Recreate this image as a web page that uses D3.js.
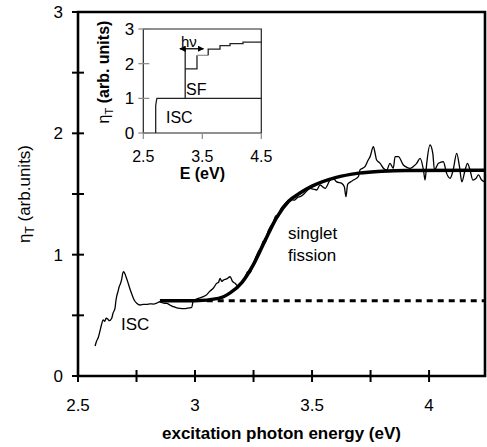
<!DOCTYPE html>
<html><head><meta charset="utf-8">
<script src="https://cdn.jsdelivr.net/npm/d3@7"></script>
<style>body{margin:0;background:#fff}svg{display:block}text{font-family:"Liberation Sans",Arial,sans-serif}</style>
</head><body><svg id="c" width="487" height="447"></svg>
<script>
const rawE = [2.573,2.580,2.587,2.595,2.600,2.608,2.614,2.620,2.627,2.634,2.644,2.650,2.658,2.662,2.665,2.670,2.676,2.682,2.687,2.691,2.695,2.700,2.705,2.712,2.719,2.727,2.734,2.742,2.751,2.765,2.780,2.794,2.808,2.822,2.836,2.850,2.865,2.879,2.893,2.907,2.922,2.936,2.950,2.965,2.986,2.993,3.000,3.014,3.035,3.050,3.064,3.078,3.093,3.100,3.107,3.114,3.121,3.135,3.150,3.160,3.171,3.185,3.200,3.215,3.225,3.235,3.245,3.260,3.275,3.285,3.290,3.300,3.310,3.325,3.335,3.345,3.355,3.365,3.380,3.395,3.410,3.425,3.440,3.449,3.465,3.480,3.491,3.505,3.520,3.534,3.556,3.577,3.590,3.605,3.627,3.638,3.645,3.652,3.665,3.677,3.698,3.705,3.726,3.740,3.748,3.762,3.769,3.776,3.791,3.805,3.819,3.833,3.847,3.855,3.869,3.890,3.905,3.919,3.935,3.947,3.962,3.976,3.983,3.990,4.004,4.016,4.023,4.040,4.061,4.075,4.090,4.103,4.118,4.130,4.140,4.154,4.164,4.175,4.187,4.201,4.211,4.225,4.239];
const rawV = [0.247,0.290,0.319,0.380,0.420,0.462,0.450,0.476,0.470,0.456,0.476,0.520,0.558,0.620,0.654,0.690,0.736,0.764,0.800,0.846,0.860,0.845,0.818,0.780,0.736,0.690,0.654,0.620,0.599,0.585,0.590,0.591,0.595,0.593,0.600,0.612,0.600,0.599,0.585,0.571,0.562,0.558,0.556,0.558,0.566,0.626,0.630,0.640,0.654,0.670,0.700,0.723,0.764,0.770,0.805,0.780,0.790,0.800,0.818,0.780,0.764,0.740,0.770,0.820,0.860,0.850,0.900,0.980,1.040,1.060,1.110,1.100,1.180,1.240,1.270,1.320,1.310,1.370,1.410,1.440,1.455,1.450,1.475,1.478,1.500,1.530,1.547,1.540,1.533,1.574,1.547,1.615,1.630,1.600,1.588,1.560,1.478,1.580,1.600,1.615,1.643,1.698,1.725,1.780,1.808,1.890,1.840,1.780,1.753,1.712,1.698,1.753,1.712,1.808,1.808,1.739,1.720,1.712,1.730,1.753,1.794,1.698,1.615,1.753,1.904,1.835,1.698,1.753,1.766,1.670,1.630,1.698,1.835,1.725,1.600,1.698,1.753,1.698,1.615,1.630,1.657,1.615,1.600];
const fitE = [2.85,3.00,3.10,3.15,3.20,3.25,3.30,3.35,3.40,3.45,3.50,3.60,3.70,3.80,3.90,4.24];
const fitV = [0.62,0.62,0.64,0.685,0.77,0.92,1.12,1.31,1.44,1.51,1.565,1.635,1.672,1.688,1.694,1.695];
const iscLevel = 0.62, iscLineStart = 3.05;
const xTicks = [2.5,3,3.5,4];
const xMinor = [2.75,3.25,3.75];
const yTicks = [0,1,2,3];
const yMinor = [0.5,1.5,2.5];
const inIscE = [2.71,2.71,2.73,4.5];
const inIscV = [0,0.8,1,1];
const inSfE = [3.21,3.21];
const inSfV = [1,2.43];
const inBoxE = [3.21,3.41,3.41];
const inBoxV = [1.85,1.85,2.24];
const inGrayE = [3.41,3.60];
const inGrayV = [2.24,2.24];
const inStepE = [3.60,3.60,3.80,3.80,3.97,3.97,4.19,4.19,4.5];
const inStepV = [2.24,2.42,2.42,2.52,2.52,2.58,2.58,2.62,2.62];
const inHvE = [3.12,3.52];
const inXTicks = [2.5,3.5,4.5];
const inYTicks = [0,1,2,3];

const svg = d3.select("#c");
const mL=78,mR=485,mT=12,mB=376;
const x = d3.scaleLinear().domain([2.5,4.239]).range([mL,mR]);
const y = d3.scaleLinear().domain([0,3]).range([mB,mT]);

// plot frame
svg.append("path")
  .attr("d",`M${x.range()[0]},${y.range()[1]}H${x.range()[1]}V${y.range()[0]}H${x.range()[0]}Z`)
  .attr("fill","none").attr("stroke","#000").attr("stroke-width",2.6);

// ticks
svg.append("g").selectAll("line").data(xTicks.concat(xMinor)).join("line")
  .attr("x1",d=>x(d)).attr("x2",d=>x(d)).attr("y1",mB-6).attr("y2",mB+6)
  .attr("stroke","#000").attr("stroke-width",2);
svg.append("g").selectAll("text").data(xTicks).join("text")
  .attr("x",d=>x(d)).attr("y",mB+35).attr("text-anchor","middle")
  .attr("font-size",17).text(d=>d3.format("")(d));
svg.append("g").selectAll("line").data(yTicks.concat(yMinor)).join("line")
  .attr("y1",d=>y(d)).attr("y2",d=>y(d)).attr("x1",mL-6).attr("x2",mL+6)
  .attr("stroke","#000").attr("stroke-width",2);
svg.append("g").selectAll("text").data(yTicks).join("text")
  .attr("x",mL-15).attr("y",d=>y(d)+6).attr("text-anchor","end")
  .attr("font-size",17).text(d=>d);

svg.append("text").attr("x",(mL+mR)/2).attr("y",439).attr("text-anchor","middle")
  .attr("font-size",17).attr("font-weight","bold").text("excitation photon energy (eV)");
const yt = svg.append("text").attr("transform","translate(30,194) rotate(-90)")
  .attr("text-anchor","middle").attr("font-size",17);
yt.append("tspan").text("η");
yt.append("tspan").attr("font-size",12).attr("dy",4).text("T");
yt.append("tspan").attr("dy",-4).text(" (arb.units)");

svg.append("line").attr("x1",x(iscLineStart)).attr("x2",x(4.239))
  .attr("y1",y(iscLevel)).attr("y2",y(iscLevel))
  .attr("stroke","#000").attr("stroke-width",3.2).attr("stroke-dasharray","6,5");

const rawData = rawE.map((e,i)=>[e,rawV[i]]);
svg.append("path").datum(rawData)
  .attr("d",d3.line().x(d=>x(d[0])).y(d=>y(d[1])).curve(d3.curveMonotoneX))
  .attr("fill","none").attr("stroke","#000").attr("stroke-width",1.3);
const fitData = fitE.map((e,i)=>[e,fitV[i]]);
svg.append("path").datum(fitData)
  .attr("d",d3.line().x(d=>x(d[0])).y(d=>y(d[1])).curve(d3.curveMonotoneX))
  .attr("fill","none").attr("stroke","#000").attr("stroke-width",3.5);

svg.append("text").attr("x",121).attr("y",330).attr("font-size",17).text("ISC");
svg.append("text").attr("x",288).attr("y",239).attr("font-size",17).text("singlet");
svg.append("text").attr("x",288).attr("y",261).attr("font-size",17).text("fission");

// ---- inset ----
const iL=143.3,iR=261.3,iT=29,iB=133;
const ix = d3.scaleLinear().domain([2.5,4.5]).range([iL,iR]);
const iy = d3.scaleLinear().domain([0,3]).range([iB,iT]);
svg.append("path")
  .attr("d",`M${ix.range()[0]},${iy.range()[1]}H${ix.range()[1]}V${iy.range()[0]}H${ix.range()[0]}Z`)
  .attr("fill","none").attr("stroke","#222").attr("stroke-width",1.2);
svg.append("g").selectAll("line").data(inXTicks).join("line")
  .attr("x1",d=>ix(d)).attr("x2",d=>ix(d)).attr("y1",iB).attr("y2",iB+6)
  .attr("stroke","#888").attr("stroke-width",1.2);
svg.append("g").selectAll("text").data(inXTicks).join("text")
  .attr("x",d=>ix(d)).attr("y",iB+29).attr("text-anchor","middle").attr("font-size",16)
  .text(d=>d3.format(".1f")(d));
svg.append("g").selectAll("line").data(inYTicks).join("line")
  .attr("y1",d=>iy(d)).attr("y2",d=>iy(d)).attr("x1",iL-5).attr("x2",iL+6)
  .attr("stroke","#888").attr("stroke-width",1.2);
svg.append("g").selectAll("text").data(inYTicks).join("text")
  .attr("x",iL-9).attr("y",d=>iy(d)+6).attr("text-anchor","end").attr("font-size",17)
  .text(d=>d);
svg.append("text").attr("x",ix(3.5)).attr("y",178.5).attr("text-anchor","middle")
  .attr("font-size",16).attr("font-weight","bold").text("E (eV)");
const iyt = svg.append("text").attr("transform","translate(109,72) rotate(-90)")
  .attr("text-anchor","middle").attr("font-size",16).attr("font-weight","bold");
iyt.append("tspan").attr("font-weight","normal").text("η");
iyt.append("tspan").attr("font-size",11).attr("font-weight","normal").attr("dy",4).text("T");
iyt.append("tspan").attr("dy",-4).text(" (arb. units)");

const il = d3.line().x(d=>ix(d[0])).y(d=>iy(d[1]));
const pts=(E,V)=>E.map((e,i)=>[e,V[i]]);
svg.append("path").datum(pts(inIscE,inIscV)).attr("d",il).attr("fill","none").attr("stroke","#222").attr("stroke-width",1.3);
svg.append("path").datum(pts(inSfE,inSfV)).attr("d",il).attr("fill","none").attr("stroke","#222").attr("stroke-width",1.3);
svg.append("path").datum(pts(inBoxE,inBoxV)).attr("d",il).attr("fill","none").attr("stroke","#222").attr("stroke-width",1.3);
svg.append("path").datum(pts(inGrayE,inGrayV)).attr("d",il).attr("fill","none").attr("stroke","#999").attr("stroke-width",1.3);
svg.append("path").datum(pts(inStepE,inStepV)).attr("d",il).attr("fill","none").attr("stroke","#222").attr("stroke-width",1.3);
const defs = svg.append("defs");
defs.append("marker").attr("id","ah").attr("viewBox","0 0 10 10").attr("refX",9).attr("refY",5)
  .attr("markerWidth",5).attr("markerHeight",5).attr("orient","auto-start-reverse")
  .append("path").attr("d","M0,0L10,5L0,10z").attr("fill","#000");
svg.append("line").attr("x1",ix(inHvE[0])).attr("x2",ix(inHvE[1])).attr("y1",iy(2.43)).attr("y2",iy(2.43))
  .attr("stroke","#000").attr("stroke-width",1.3)
  .attr("marker-start","url(#ah)").attr("marker-end","url(#ah)");
svg.append("text").attr("x",181).attr("y",47).attr("font-size",15).text("hν");
svg.append("text").attr("x",186).attr("y",95).attr("font-size",16).text("SF");
svg.append("text").attr("x",166).attr("y",123).attr("font-size",16).text("ISC");
</script></body></html>
